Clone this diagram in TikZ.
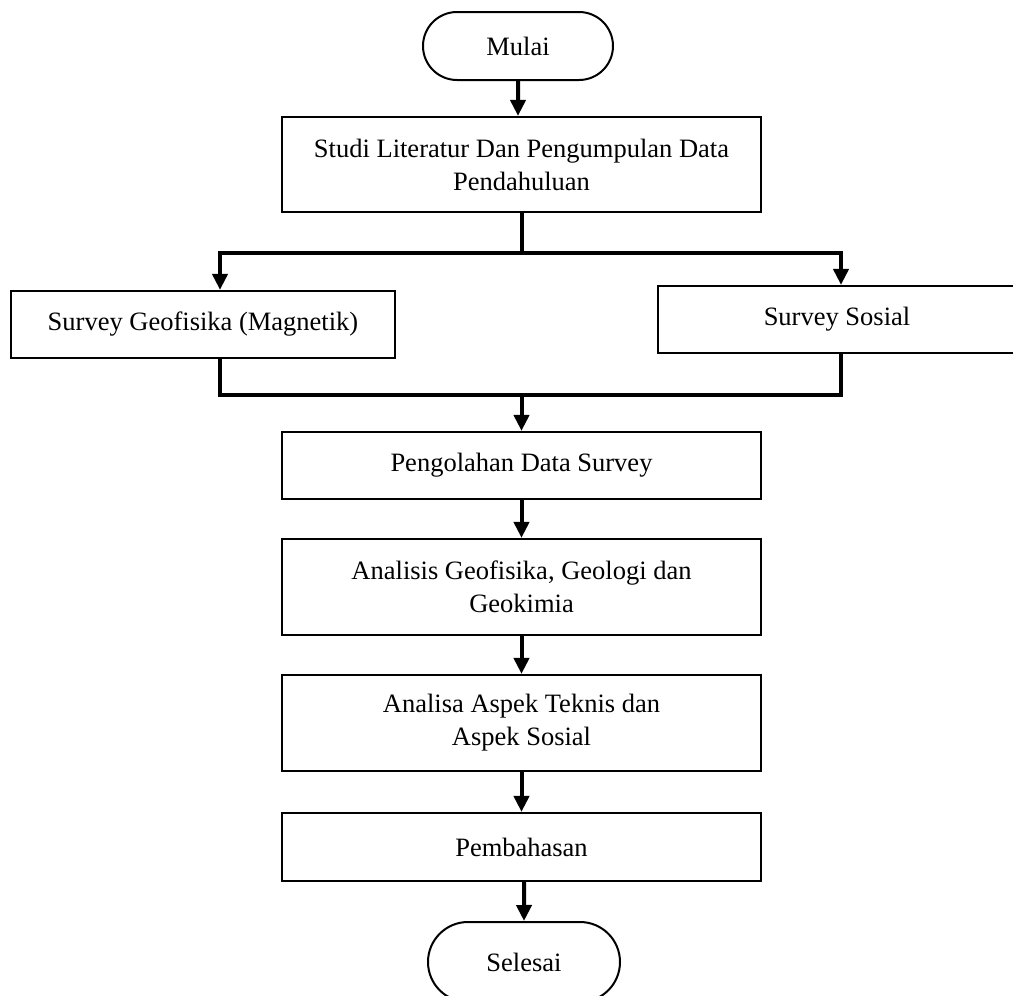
\documentclass[tikz,border=0pt]{standalone}
\usepackage{fontspec}
\setmainfont{Liberation Serif}
\usetikzlibrary{arrows.meta,shapes.misc}
\begin{document}
\begin{tikzpicture}[x=0.5pt,y=-0.5pt,
        box/.style={draw,line width=1.1pt,inner sep=0pt,align=center,font=\fontsize{13.25}{16.5}\selectfont},
        term/.style={draw,rounded rectangle,line width=1pt,inner sep=0pt,font=\fontsize{13.25}{16.5}\selectfont},
        link/.style={line width=2pt},
        arr/.style={line width=2pt,-{Triangle[length=8pt,width=7.5pt]}}]
                \useasboundingbox (0,0) rectangle (1013,996);
                \node[term,minimum width=95pt,minimum height=34pt] (mulai) at (518,46) {Mulai};
                \node[box,minimum width=239.5pt,minimum height=47.5pt] (studi) at (521.5,164.5) {Studi Literatur Dan Pengumpulan Data\\Pendahuluan};
                \node[box,minimum width=192pt,minimum height=33.5pt] (geo) at (203,324.5) {Survey Geofisika (Magnetik)};
                \node[box,minimum width=179pt,minimum height=33.5pt] (sosial) at (837,319.5) {Survey Sosial};
                \node[box,minimum width=239.5pt,minimum height=33.5pt] (olah) at (521.5,465.5) {Pengolahan Data Survey};
                \node[box,minimum width=239.5pt,minimum height=48pt] (analisis) at (521.5,587) {Analisis Geofisika, Geologi dan\\Geokimia};
                \node[box,minimum width=239.5pt,minimum height=48pt] (analisa) at (521.5,723) {Analisa Aspek Teknis dan\\Aspek Sosial};
                \node[box,minimum width=239.5pt,minimum height=34pt] (bahas) at (521.5,847) {Pembahasan};
                \node[term,minimum width=96pt,minimum height=40pt] (selesai) at (524,962) {Selesai};
                \coordinate (split) at (521.5,253);
                \coordinate (merge) at (521.5,395);

                \draw[arr] (mulai) -- (mulai |- studi.north);
                \draw[link] (studi) -- (split);
                \draw[arr] (split) -| ([xshift=8.5pt]geo.north); \draw[arr] (split) -| ([xshift=2pt]sosial.north);
                \draw[link] ([xshift=8.5pt]geo.south) |- (merge) -| ([xshift=2pt]sosial.south);
                \draw[arr] (merge) -- (olah);
                \draw[arr] (olah) -- (analisis); \draw[arr] (analisis) -- (analisa); \draw[arr] (analisa) -- (bahas);
                \draw[arr] (bahas.south -| selesai) -- (selesai);
            \end{tikzpicture}
\end{document}
